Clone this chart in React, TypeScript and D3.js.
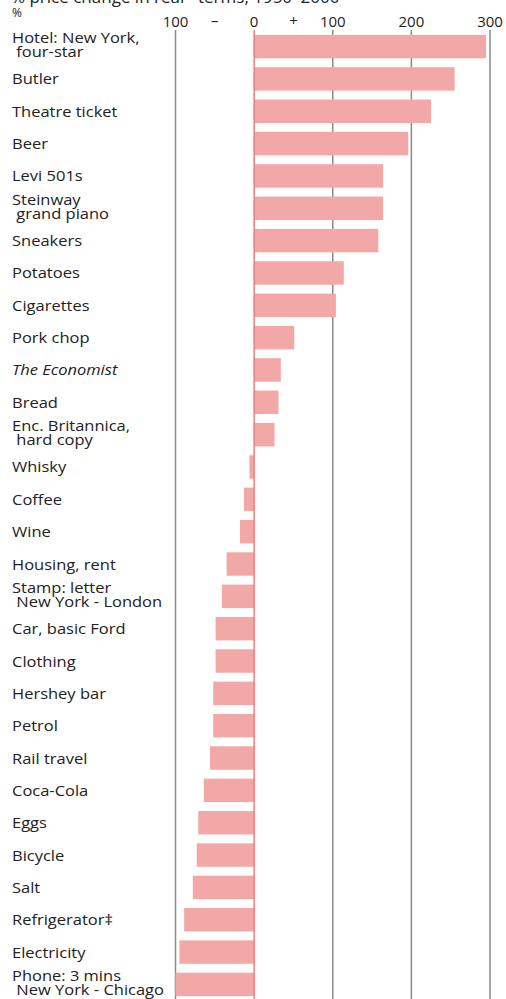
import React from "react";
import * as d3 from "d3";

const categories: string[][] = [
  ["Hotel: New York,", " four-star"],
  ["Butler"],
  ["Theatre ticket"],
  ["Beer"],
  ["Levi 501s"],
  ["Steinway", " grand piano"],
  ["Sneakers"],
  ["Potatoes"],
  ["Cigarettes"],
  ["Pork chop"],
  ["The Economist"],
  ["Bread"],
  ["Enc. Britannica,", " hard copy"],
  ["Whisky"],
  ["Coffee"],
  ["Wine"],
  ["Housing, rent"],
  ["Stamp: letter", " New York - London"],
  ["Car, basic Ford"],
  ["Clothing"],
  ["Hershey bar"],
  ["Petrol"],
  ["Rail travel"],
  ["Coca-Cola"],
  ["Eggs"],
  ["Bicycle"],
  ["Salt"],
  ["Refrigerator\u2021"],
  ["Electricity"],
  ["Phone: 3 mins", " New York - Chicago"],
];

const values: number[] = [
  295, 255, 225, 196, 164, 164, 158, 114, 104, 51, 34, 31, 26, -6, -13, -18,
  -35, -41, -49, -49, -52, -52, -56, -64, -71, -73, -78, -89, -95, -100,
];

const tickValues: number[] = [-100, 0, 100, 200, 300];
const tickLabels: string[] = ["100", "0", "100", "200", "300"];
const italicCategories: string[] = ["The Economist"];

const title = "% price change in real* terms, 1950\u20132000";

export default function App() {
  const W = 506;
  const H = 999;
  const x = d3.scaleLinear().domain([-100, 300]).range([175.5, 490]);
  const y = d3
    .scaleBand<number>()
    .domain(d3.range(categories.length))
    .range([31, 31 + 32.3 * categories.length])
    .paddingInner(0.275)
    .paddingOuter(0.12);

  const font = "'Open Sans', 'Noto Sans', sans-serif";
  const barColor = "#f2a8a7";
  const fs = 15;
  const sx = 1.1;

  return (
    <svg
      width={W}
      height={H}
      style={{ position: "absolute", left: 0, top: 0, background: "#fff" }}
      fontFamily={font}
    >
      <text x={11} y={3} fontSize={17} fill="#222">
        {title}
      </text>
      <text x={12} y={17} fontSize={12} fill="#222">
        %
      </text>
      {/* gridlines */}
      {tickValues
        .filter((v) => v !== 0)
        .map((v) => (
          <line
            key={v}
            x1={x(v)}
            x2={x(v)}
            y1={30}
            y2={H}
            stroke="#8a8a8a"
            strokeWidth={1.5}
          />
        ))}
      {/* tick labels */}
      {tickValues.map((v, i) => (
        <text
          key={"t" + v}
          x={x(v)}
          y={27}
          fontSize={15}
          textAnchor="middle"
          fill="#222"
        >
          {tickLabels[i]}
        </text>
      ))}
      <text x={(x(-100) + x(0)) / 2} y={26} fontSize={15} textAnchor="middle" fill="#222">
        {"\u2013"}
      </text>
      <text x={(x(0) + x(100)) / 2} y={26} fontSize={15} textAnchor="middle" fill="#222">
        +
      </text>
      {/* bars */}
      {values.map((v, i) => (
        <rect
          key={"b" + i}
          x={Math.min(x(0), x(v))}
          y={y(i)}
          width={Math.abs(x(v) - x(0))}
          height={y.bandwidth()}
          fill={barColor}
        />
      ))}
      {/* zero line */}
      <line x1={x(0)} x2={x(0)} y1={30} y2={H} stroke="#f47c7c" strokeWidth={1.5} />
      {/* labels */}
      <g transform={`translate(12,0) scale(${sx},1)`}>
        {categories.map((lines, i) => {
          const cy = (y(i) as number) + y.bandwidth() / 2;
          const italic = italicCategories.includes(lines[0]);
          if (lines.length === 1) {
            return (
              <text
                key={"l" + i}
                x={0}
                y={cy + 5.5}
                fontSize={fs}
                fill="#222"
                fontStyle={italic ? "italic" : "normal"}
              >
                {lines[0]}
              </text>
            );
          }
          return (
            <text key={"l" + i} x={0} fontSize={fs} fill="#222" style={{ whiteSpace: "pre" }}>
              <tspan x={0} y={cy - 3.5}>
                {lines[0]}
              </tspan>
              <tspan x={0} y={cy + 10.5}>
                {lines[1]}
              </tspan>
            </text>
          );
        })}
      </g>
    </svg>
  );
}
